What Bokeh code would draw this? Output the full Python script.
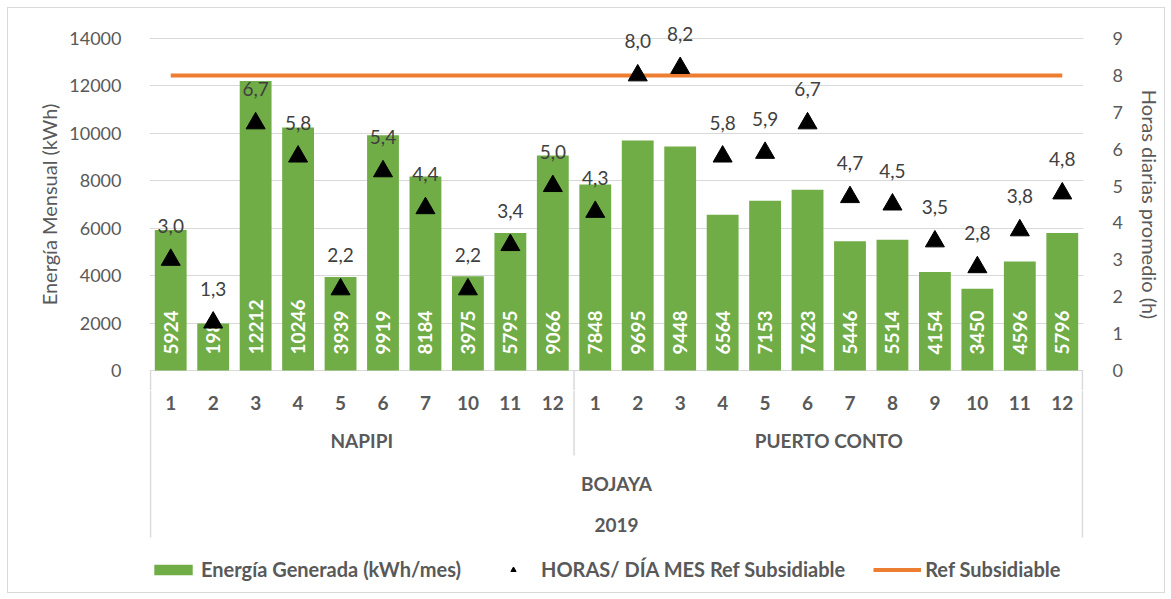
import math
from bokeh.plotting import figure
from bokeh.layouts import column
from bokeh.models import (Range1d, LinearAxis, FixedTicker, ColumnDataSource,
                          Legend, LegendItem)
from bokeh.core.properties import value
from bokeh.embed import file_html
from bokeh.resources import INLINE

# ---------------- data ----------------
year = "2019"
municipality = "BOJAYA"
site_names = ["NAPIPI", "PUERTO CONTO"]
napipi_months = ["1", "2", "3", "4", "5", "6", "7", "10", "11", "12"]
conto_months = ["1", "2", "3", "4", "5", "6", "7", "8", "9", "10", "11", "12"]
napipi_energy = [5924, 1980, 12212, 10246, 3939, 9919, 8184, 3975, 5795, 9066]
conto_energy = [7848, 9695, 9448, 6564, 7153, 7623, 5446, 5514, 4154, 3450, 4596, 5796]
napipi_hours = [3.0, 1.3, 6.7, 5.8, 2.2, 5.4, 4.4, 2.2, 3.4, 5.0]
conto_hours = [4.3, 8.0, 8.2, 5.8, 5.9, 6.7, 4.7, 4.5, 3.5, 2.8, 3.8, 4.8]
ref_subsidiable = [8, 8, 8, 8, 8, 8, 8, 8, 8, 8, 8,
                   8, 8, 8, 8, 8, 8, 8, 8, 8, 8, 8]
energy_ticks = [0, 2000, 4000, 6000, 8000, 10000, 12000, 14000]
hour_ticks = [0, 1, 2, 3, 4, 5, 6, 7, 8, 9]
series_names = ["Energía Generada (kWh/mes)", "HORAS/ DÍA MES Ref Subsidiable", "Ref Subsidiable"]
axis_titles = ["Energía Mensual (kWh)", "Horas diarias promedio (h)"]

# ---------------- derived ----------------
months = napipi_months + conto_months
energy = napipi_energy + conto_energy
hours = napipi_hours + conto_hours
n_first = len(napipi_months)
n_total = len(months)
slot = [i + 0.5 for i in range(n_total)]      # category slot centres on the x scale
src = ColumnDataSource(dict(
    x=slot,
    energy=energy,
    energy_label=[str(v) for v in energy],
    hours=hours,
    hours_label=[f"{h:.1f}".replace(".", ",") for h in hours],
    ref=ref_subsidiable,
))

# ---------------- geometry (pixels) ----------------
W = 1156
H_TOP, H_BOT = 382, 202
B_LEFT, B_RIGHT, B_TOP = 141, 80, 10
FRAME_W = W - B_LEFT - B_RIGHT
FRAME_H = H_TOP - B_TOP
PX_PER = 332 / 14000.0          # px per kWh
ZERO_FROM_TOP = 352             # frame px from its top to the zero line
y_end = ZERO_FROM_TOP / PX_PER
y_start = -(FRAME_H - ZERO_FROM_TOP) / PX_PER
hmax = energy_ticks[-1] / hour_ticks[-1]
unit_px = FRAME_W / n_total
edge = 1.0 / unit_px

FONT = value("Lato")
GREY = "#595959"
DARK = "#404040"
GREEN = "#70AD47"
ORANGE = "#ED7D31"
GRID = "#D9D9D9"

# ================= top figure: the chart =================
p = figure(width=W, height=H_TOP, x_range=Range1d(0, n_total), y_range=Range1d(y_start, y_end),
           output_backend="svg", toolbar_location=None, x_axis_location=None,
           min_border_left=B_LEFT, min_border_right=B_RIGHT,
           min_border_top=B_TOP, min_border_bottom=0)
p.outline_line_color = None
p.background_fill_color = "white"
p.border_fill_color = "white"
p.extra_y_ranges = {"hours": Range1d(y_start / hmax, y_end / hmax)}

p.xgrid.visible = False
p.ygrid.ticker = FixedTicker(ticks=energy_ticks)
p.ygrid.grid_line_color = GRID
p.ygrid.grid_line_width = 1


def style_axis(a):
    a.axis_line_color = None
    a.major_tick_line_color = None
    a.minor_tick_line_color = None
    a.major_label_text_font = "Lato"
    a.major_label_text_font_size = "18px"
    a.major_label_text_color = GREY
    a.axis_label_text_font = "Lato"
    a.axis_label_text_font_size = "20px"
    a.axis_label_text_font_style = "normal"
    a.axis_label_text_color = GREY


ax = p.yaxis[0]
ax.ticker = FixedTicker(ticks=energy_ticks)
style_axis(ax)
ax.major_label_standoff = 22
ax.axis_label = axis_titles[0]
ax.axis_label_standoff = 5

rax = LinearAxis(y_range_name="hours", ticker=FixedTicker(ticks=hour_ticks))
style_axis(rax)
rax.major_label_standoff = 23
rax.axis_label = axis_titles[1]
rax.axis_label_standoff = 12
p.add_layout(rax, "right")

bars = p.vbar(x="x", top="energy", width=0.75, source=src, fill_color=GREEN, line_color=None)
p.text(x="x", y=0, text="energy_label", source=src, angle=math.pi / 2,
       text_align="left", text_baseline="middle", y_offset=-16,
       text_color="white", text_font=FONT, text_font_style="bold", text_font_size="19px")
ref_line = p.line(x="x", y="ref", source=src, y_range_name="hours", line_color=ORANGE, line_width=4)
marks = p.scatter(x="x", y="hours", source=src, y_range_name="hours", marker="triangle",
                  size=19, fill_color="black", line_color="black")
p.text(x="x", y="hours", text="hours_label", source=src, y_range_name="hours",
       y_offset=-34, text_align="center", text_baseline="middle",
       text_color=DARK, text_font=FONT, text_font_size="19px")

# table borders starting at the zero line
p.segment(x0=[edge, n_first, n_total - edge], x1=[edge, n_first, n_total - edge],
          y0=[0, 0, 0], y1=[y_start, y_start, y_start], line_color=GRID, line_width=1.5)

# ================= bottom figure: category table + legend =================
q = figure(width=W, height=H_BOT, x_range=Range1d(0, n_total), y_range=Range1d(H_BOT, 0),
           output_backend="svg", toolbar_location=None,
           x_axis_location=None, y_axis_location=None,
           min_border_left=B_LEFT, min_border_right=B_RIGHT, min_border_top=0, min_border_bottom=0)
q.outline_line_color = None
q.xgrid.visible = False
q.ygrid.visible = False
q.background_fill_color = "white"
q.border_fill_color = "white"

row_y = {"month": 12, "site": 50, "mun": 93, "year": 134, "sep_end": 65, "edge_end": 147}
label_kw = dict(text_align="center", text_baseline="middle", text_color=GREY,
                text_font=FONT, text_font_style="bold", text_font_size="19px")
q.text(x=slot, y=row_y["month"], text=months, **label_kw)
site_x = [n_first / 2, n_first + (n_total - n_first) / 2]
q.text(x=site_x, y=row_y["site"], text=site_names, **label_kw)
q.text(x=[n_total / 2], y=row_y["mun"], text=[municipality], **label_kw)
q.text(x=[n_total / 2], y=row_y["year"], text=[year], **label_kw)
q.segment(x0=[edge, n_first, n_total - edge], x1=[edge, n_first, n_total - edge], y0=[0, 0, 0],
          y1=[row_y["edge_end"], row_y["sep_end"], row_y["edge_end"]],
          line_color=GRID, line_width=1.5)

# legend swatches: same series, styled like the chart, not drawn in this panel
lg_bar = q.vbar(x="x", top="energy", width=0.75, source=src, fill_color=GREEN,
                line_color=None, visible=False)
lg_mark = q.scatter(x="x", y="hours", source=src, marker="triangle", size=19,
                    fill_color="black", line_color="black", visible=False)
lg_line = q.line(x="x", y="ref", source=src, line_color=ORANGE, line_width=4, visible=False)
legend = Legend(items=[LegendItem(label=series_names[0], renderers=[lg_bar]),
                       LegendItem(label=series_names[1], renderers=[lg_mark]),
                       LegendItem(label=series_names[2], renderers=[lg_line])],
                orientation="horizontal", location=(0, 11), glyph_width=48, glyph_height=13,
                label_height=20, spacing=28, label_standoff=4, padding=0, margin=0,
                border_line_color=None, background_fill_alpha=0, inactive_fill_alpha=0,
                label_text_font="Lato", label_text_font_style="bold",
                label_text_font_size="20px", label_text_color=GREY)
q.add_layout(legend)

layout = column(p, q, spacing=0)
layout.styles = {"margin-left": "7px", "margin-top": "7px", "border": "1px solid #D9D9D9"}

open("out.html", "w").write(file_html(layout, INLINE))
